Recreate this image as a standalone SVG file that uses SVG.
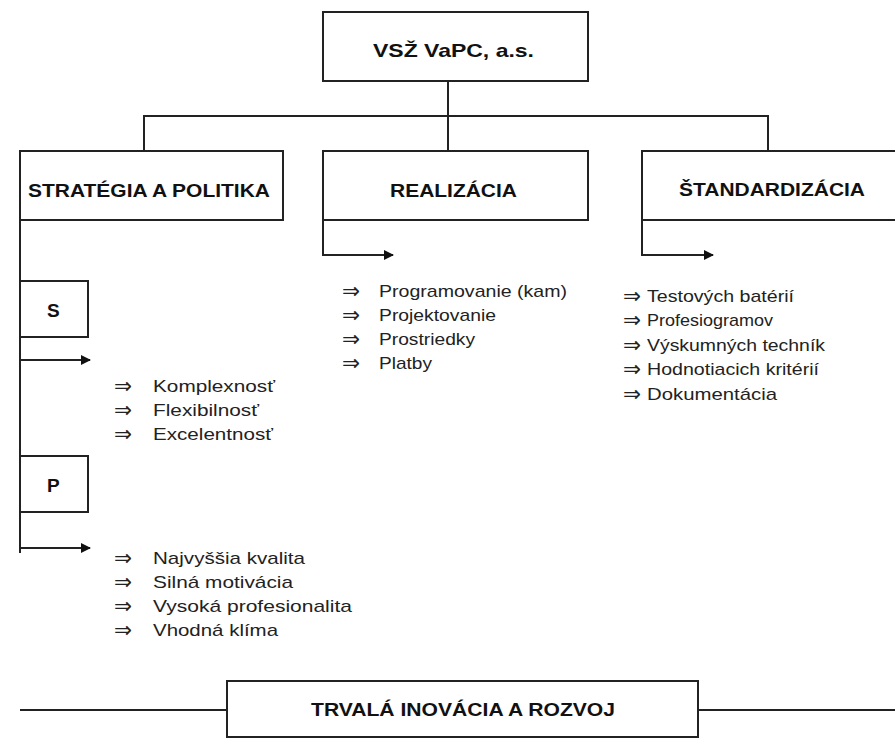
<svg xmlns="http://www.w3.org/2000/svg" width="895" height="739" viewBox="0 0 895 739">
<style>
.box{fill:#fff;stroke:#222;stroke-width:2}
.ln{fill:none;stroke:#222;stroke-width:2}
.h{font-family:"Liberation Sans",Arial,sans-serif;font-weight:bold;font-size:19px;fill:#111}
.t{font-family:"Liberation Sans",Arial,sans-serif;font-size:17px;fill:#222}
.ar{font-family:"DejaVu Sans",sans-serif;font-size:21px;fill:#222}
</style>
<defs>
<marker id="ah" viewBox="0 0 10 10" refX="9" refY="5" markerWidth="5" markerHeight="5" orient="auto" markerUnits="strokeWidth">
<path d="M0,0 L10,5 L0,10 z" fill="#111"/>
</marker>
</defs>
<rect width="895" height="739" fill="#fff"/>
<g id="connectors">
<path class="ln" d="M448,81 V151"/>
<path class="ln" d="M144,151 V116 H768 V151"/>
<path class="ln" d="M323,220 V255 H393" marker-end="url(#ah)"/>
<path class="ln" d="M642,220 V255 H713" marker-end="url(#ah)"/>
<path class="ln" d="M20,220 V553"/>
<path class="ln" d="M20,360 H90" marker-end="url(#ah)"/>
<path class="ln" d="M20,548 H90" marker-end="url(#ah)"/>
<path class="ln" d="M20,710 H227"/>
<path class="ln" d="M698,710 H895"/>
</g>
<g id="root">
<rect class="box" x="323" y="12" width="265" height="69"/>
<text class="h" x="373" y="57" textLength="161" lengthAdjust="spacingAndGlyphs">VSŽ VaPC, a.s.</text>
</g>
<g id="strategia">
<rect class="box" x="20" y="151" width="263" height="69"/>
<text class="h" x="28" y="197" textLength="242" lengthAdjust="spacingAndGlyphs">STRATÉGIA A POLITIKA</text>
</g>
<g id="realizacia">
<rect class="box" x="323" y="151" width="265" height="69"/>
<text class="h" x="390" y="197" textLength="127" lengthAdjust="spacingAndGlyphs">REALIZÁCIA</text>
</g>
<g id="standardizacia">
<rect class="box" x="642" y="151" width="260" height="69"/>
<text class="h" x="679" y="196" textLength="186" lengthAdjust="spacingAndGlyphs">ŠTANDARDIZÁCIA</text>
</g>
<g id="s">
<rect class="box" x="20" y="281" width="68" height="56"/>
<text class="h" x="47" y="317">S</text>
</g>
<g id="p">
<rect class="box" x="20" y="456" width="68" height="56"/>
<text class="h" x="47" y="492">P</text>
</g>
<g id="inovacia">
<rect class="box" x="227" y="681" width="471" height="56"/>
<text class="h" x="311" y="716" textLength="304" lengthAdjust="spacingAndGlyphs">TRVALÁ INOVÁCIA A ROZVOJ</text>
</g>
<g id="list-s">
<text class="ar" x="114" y="393" textLength="18" lengthAdjust="spacingAndGlyphs">⇒</text>
<text class="ar" x="114" y="417" textLength="18" lengthAdjust="spacingAndGlyphs">⇒</text>
<text class="ar" x="114" y="441" textLength="18" lengthAdjust="spacingAndGlyphs">⇒</text>
<text class="t" x="153" y="392" textLength="122" lengthAdjust="spacingAndGlyphs">Komplexnosť</text>
<text class="t" x="153" y="416" textLength="106" lengthAdjust="spacingAndGlyphs">Flexibilnosť</text>
<text class="t" x="153" y="440" textLength="120" lengthAdjust="spacingAndGlyphs">Excelentnosť</text>
</g>
<g id="list-p">
<text class="ar" x="114" y="565" textLength="18" lengthAdjust="spacingAndGlyphs">⇒</text>
<text class="ar" x="114" y="589" textLength="18" lengthAdjust="spacingAndGlyphs">⇒</text>
<text class="ar" x="114" y="613" textLength="18" lengthAdjust="spacingAndGlyphs">⇒</text>
<text class="ar" x="114" y="637" textLength="18" lengthAdjust="spacingAndGlyphs">⇒</text>
<text class="t" x="153" y="564" textLength="152" lengthAdjust="spacingAndGlyphs">Najvyššia kvalita</text>
<text class="t" x="153" y="588" textLength="140" lengthAdjust="spacingAndGlyphs">Silná motivácia</text>
<text class="t" x="153" y="612" textLength="199" lengthAdjust="spacingAndGlyphs">Vysoká profesionalita</text>
<text class="t" x="153" y="636" textLength="125" lengthAdjust="spacingAndGlyphs">Vhodná klíma</text>
</g>
<g id="list-r">
<text class="ar" x="342" y="298" textLength="18" lengthAdjust="spacingAndGlyphs">⇒</text>
<text class="ar" x="342" y="322" textLength="18" lengthAdjust="spacingAndGlyphs">⇒</text>
<text class="ar" x="342" y="346" textLength="18" lengthAdjust="spacingAndGlyphs">⇒</text>
<text class="ar" x="342" y="370" textLength="18" lengthAdjust="spacingAndGlyphs">⇒</text>
<text class="t" x="379" y="297" textLength="188" lengthAdjust="spacingAndGlyphs">Programovanie (kam)</text>
<text class="t" x="379" y="321" textLength="117" lengthAdjust="spacingAndGlyphs">Projektovanie</text>
<text class="t" x="379" y="345" textLength="96" lengthAdjust="spacingAndGlyphs">Prostriedky</text>
<text class="t" x="379" y="369" textLength="53" lengthAdjust="spacingAndGlyphs">Platby</text>
</g>
<g id="list-st">
<text class="ar" x="623" y="303" textLength="18" lengthAdjust="spacingAndGlyphs">⇒</text>
<text class="ar" x="623" y="327" textLength="18" lengthAdjust="spacingAndGlyphs">⇒</text>
<text class="ar" x="623" y="352" textLength="18" lengthAdjust="spacingAndGlyphs">⇒</text>
<text class="ar" x="623" y="376" textLength="18" lengthAdjust="spacingAndGlyphs">⇒</text>
<text class="ar" x="623" y="401" textLength="18" lengthAdjust="spacingAndGlyphs">⇒</text>
<text class="t" x="647" y="302" textLength="147" lengthAdjust="spacingAndGlyphs">Testových batérií</text>
<text class="t" x="647" y="326" textLength="126" lengthAdjust="spacingAndGlyphs">Profesiogramov</text>
<text class="t" x="647" y="351" textLength="178" lengthAdjust="spacingAndGlyphs">Výskumných techník</text>
<text class="t" x="647" y="375" textLength="172" lengthAdjust="spacingAndGlyphs">Hodnotiacich kritérií</text>
<text class="t" x="647" y="400" textLength="130" lengthAdjust="spacingAndGlyphs">Dokumentácia</text>
</g>
</svg>
